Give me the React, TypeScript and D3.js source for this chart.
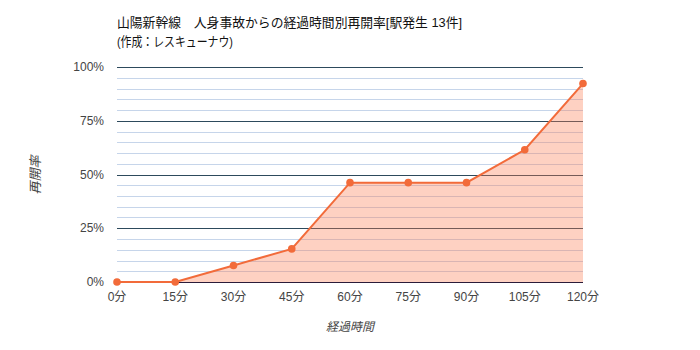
import React from "react";
import * as d3 from "d3";

const minutes = [0, 15, 30, 45, 60, 75, 90, 105, 120];
const rates = [0, 0, 7.7, 15.4, 46.2, 46.2, 46.2, 61.5, 92.3];
const yTicks = [0, 25, 50, 75, 100];
const minorTicks = d3.range(0, 101, 5).filter((v) => v % 25 !== 0);
const title1 = "山陽新幹線　人身事故からの経過時間別再開率[駅発生 13件]";
const title2 = "(作成：レスキューナウ)";
const xTitle = "経過時間";
const yTitle = "再開率";

const W = 700, H = 350;
const L = 117, R = 583, T = 67, B = 282;
const FONT = "'Liberation Sans', Arial, 'Noto Sans CJK JP', sans-serif";

export default function App() {
  const x = d3.scaleLinear().domain([0, 120]).range([L, R]);
  const y = d3.scaleLinear().domain([0, 100]).range([B, T]);
  const data = minutes.map((m, i) => ({ m, v: rates[i] }));
  const line = d3.line<{ m: number; v: number }>().x((d) => x(d.m)).y((d) => y(d.v));
  const area = d3.area<{ m: number; v: number }>().x((d) => x(d.m)).y0(y(0)).y1((d) => y(d.v));
  return (
    <svg width={W} height={H} style={{ position: "absolute", left: 0, top: 0, background: "#fff" }} fontFamily={FONT}>
      <rect width={W} height={H} fill="#fff" />
      <text x={117} y={27} fontSize={13} fill="#111" textLength={345} lengthAdjust="spacingAndGlyphs">{title1}</text>
      <text x={117} y={46} fontSize={13} fill="#111" textLength={116} lengthAdjust="spacingAndGlyphs">{title2}</text>
      {minorTicks.map((t) => (
        <line key={"m" + t} x1={L} x2={R} y1={Math.round(y(t)) + 0.5} y2={Math.round(y(t)) + 0.5} stroke="#c6d5ea" strokeWidth={1} />
      ))}
      {yTicks.filter((t) => t > 0).map((t) => (
        <line key={"g" + t} x1={L} x2={R} y1={Math.round(y(t)) + 0.5} y2={Math.round(y(t)) + 0.5} stroke="#2d4a5c" strokeWidth={1} />
      ))}
      <path d={area(data) || ""} fill="#fc7a4f" fillOpacity={0.35} />
      <line x1={L} x2={R} y1={B + 0.5} y2={B + 0.5} stroke="#2b1c3a" strokeWidth={1} />
      <path d={line(data) || ""} fill="none" stroke="#f26b3a" strokeWidth={2} />
      {data.map((d) => (
        <circle key={d.m} cx={x(d.m)} cy={y(d.v)} r={3.8} fill="#f26b3a" />
      ))}
      {yTicks.map((t) => (
        <text key={"y" + t} x={104} y={y(t) + 4} textAnchor="end" fontSize={12} fill="#444">{t}%</text>
      ))}
      {minutes.map((m) => (
        <text key={"x" + m} x={x(m)} y={301} textAnchor="middle" fontSize={12} fill="#444">{m}分</text>
      ))}
      <text x={350} y={331} textAnchor="middle" fontSize={12} fontStyle="italic" fill="#444">{xTitle}</text>
      <text transform={`translate(40,175) rotate(-90)`} textAnchor="middle" fontSize={13} fontStyle="italic" fill="#444">{yTitle}</text>
    </svg>
  );
}
